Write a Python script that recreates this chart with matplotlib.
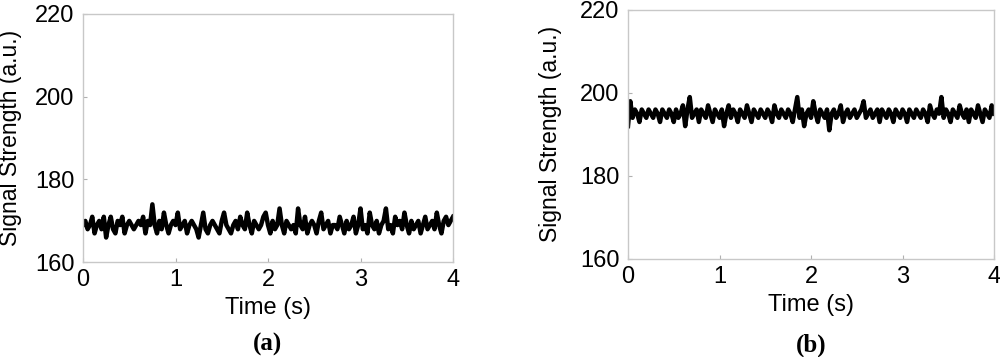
import numpy as np
import matplotlib.pyplot as plt

plt.rcParams['font.family'] = ['Liberation Sans', 'DejaVu Sans']

# time base (s), 0.025 s step
time_s = np.arange(161) * 0.025

# panel (a): signal strength (a.u.)
signal_a = [
    169, 170, 168, 169, 171, 167, 169, 170, 168, 171,
    166, 169, 171, 168, 167, 170, 169, 171, 167, 169,
    170, 169, 168, 169, 170, 169, 171, 167, 170, 169,
    174, 169, 167, 170, 168, 172, 169, 167, 169, 170,
    169, 172, 168, 169, 170, 167, 169, 170, 169, 168,
    166, 169, 172, 168, 167, 169, 170, 169, 168, 167,
    170, 172, 169, 168, 167, 169, 170, 168, 171, 169,
    168, 172, 169, 167, 170, 169, 168, 169, 171, 172,
    169, 167, 170, 168, 169, 173, 169, 167, 170, 169,
    168, 169, 167, 173, 169, 168, 171, 167, 169, 170,
    169, 167, 170, 172, 168, 169, 170, 167, 169, 169,
    168, 171, 169, 167, 170, 168, 169, 171, 167, 169,
    173, 168, 169, 167, 172, 169, 168, 170, 167, 169,
    170, 173, 168, 169, 167, 171, 169, 170, 168, 172,
    169, 167, 170, 168, 169, 170, 167, 169, 171, 168,
    169, 170, 168, 172, 169, 167, 170, 171, 169, 170,
    171,
]

# panel (b): signal strength (a.u.)
signal_b = [
    192, 198, 194, 196, 195, 193, 196, 195, 194, 196,
    195, 194, 196, 195, 193, 196, 195, 194, 196, 195,
    193, 196, 194, 195, 197, 192, 196, 199, 194, 195,
    196, 193, 196, 195, 194, 197, 195, 193, 196, 195,
    194, 196, 192, 195, 197, 194, 196, 195, 193, 196,
    195, 194, 197, 195, 193, 196, 195, 194, 196, 195,
    194, 196, 195, 193, 197, 195, 194, 196, 195, 194,
    196, 195, 193, 196, 199, 194, 196, 192, 195, 196,
    194, 198, 195, 193, 196, 195, 194, 196, 191, 195,
    196, 194, 195, 197, 193, 195, 196, 194, 195, 196,
    194, 195, 196, 198, 194, 195, 196, 194, 195, 196,
    193, 196, 195, 194, 196, 195, 193, 196, 195, 194,
    196, 195, 193, 196, 195, 194, 196, 195, 194, 196,
    195, 193, 197, 195, 194, 196, 195, 199, 194, 196,
    195, 193, 196, 195, 194, 197, 195, 194, 196, 193,
    196, 195, 194, 197, 195, 193, 196, 195, 194, 197,
    195,
]

panels = [
    (signal_a, "(a)", [0.083, 0.265, 0.370, 0.697], -0.165),
    (signal_b, "(b)", [0.628, 0.275, 0.366, 0.697], -0.18),
]

fig = plt.figure(figsize=(10, 3.57), dpi=100)

for values, tag, rect, ylab_x in panels:
    ax = fig.add_axes(rect)
    ax.plot(time_s, values, color='black', linewidth=3.2, solid_joinstyle='round')
    ax.set_xlim(0, 4)
    ax.set_ylim(160, 220)
    ax.set_xticks([0, 1, 2, 3, 4])
    ax.set_yticks([160, 180, 200, 220])
    for sp in ax.spines.values():
        sp.set_color('#c8c8c8')
        sp.set_linewidth(1)
    ax.tick_params(direction='in', length=3, color='#b0b0b0', labelsize=17)
    ax.tick_params(axis='x', pad=5)
    ax.tick_params(axis='y', pad=6)
    ax.set_xlabel("Time (s)", fontsize=17)
    ax.xaxis.set_label_coords(0.5, -0.14)
    ax.set_ylabel("Signal Strength (a.u.)", fontsize=16.5)
    ax.yaxis.set_label_coords(ylab_x, 0.5)
    cx = rect[0] + rect[2] / 2
    fig.text(cx, 0.034, tag, ha='center', va='center',
             fontsize=18, fontweight='bold', family='Liberation Serif')

fig.savefig("out.png", dpi=100)
